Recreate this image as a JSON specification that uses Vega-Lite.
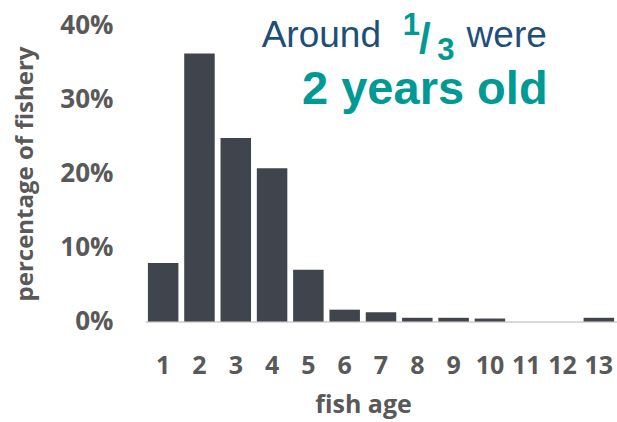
{
  "$schema": "https://vega.github.io/schema/vega-lite/v6.json",
  "autosize": {"type": "none"},
  "width": 472,
  "height": 296,
  "padding": {"left": 145, "top": 25.5, "right": 0, "bottom": 100.5},
  "background": "white",
  "config": {"view": {"stroke": null}},
  "data": {"values": [
    {"age": 1, "pct": 7.9},
    {"age": 2, "pct": 36.2},
    {"age": 3, "pct": 24.8},
    {"age": 4, "pct": 20.7},
    {"age": 5, "pct": 7.0},
    {"age": 6, "pct": 1.6},
    {"age": 7, "pct": 1.25},
    {"age": 8, "pct": 0.5},
    {"age": 9, "pct": 0.5},
    {"age": 10, "pct": 0.4},
    {"age": 11, "pct": 0},
    {"age": 12, "pct": 0},
    {"age": 13, "pct": 0.5}
  ]},
  "encoding": {
    "x": {
      "field": "age", "type": "ordinal",
      "scale": {"paddingInner": 0.16, "paddingOuter": 0.08},
      "axis": {
        "title": "fish age", "labelAngle": 0, "labelOverlap": false,
        "ticks": false, "domainColor": "#d9d9d9", "domainWidth": 2,
        "labelFont": "Open Sans", "labelFontSize": 25, "labelFontWeight": "bold", "labelColor": "#595959",
        "labelPadding": 32,
        "titleFont": "Open Sans", "titleFontSize": 25, "titleFontWeight": "bold", "titleColor": "#595959",
        "titlePadding": 14, "titleX": 218
      }
    }
  },
  "layer": [
    {
      "mark": {"type": "bar", "color": "#40444d"},
      "encoding": {
        "y": {
          "field": "pct", "type": "quantitative",
          "scale": {"domain": [0, 40], "nice": false},
          "axis": {
            "title": "percentage of fishery", "values": [0, 10, 20, 30, 40],
            "labelExpr": "datum.value + '%'",
            "grid": false, "ticks": false, "domain": false,
            "labelFont": "Open Sans", "labelFontSize": 26, "labelFontWeight": "bold", "labelColor": "#595959",
            "labelPadding": 32,
            "titleFont": "Open Sans", "titleFontSize": 24, "titleFontWeight": "bold", "titleColor": "#595959",
            "titlePadding": 22
          }
        }
      }
    },
    {
      "data": {"values": [{}]},
      "mark": {"type": "text", "text": "Around", "align": "right", "baseline": "alphabetic", "font": "Liberation Sans", "fontSize": 37, "color": "#1f4e79"},
      "encoding": {"x": {"datum": 7}, "y": {"datum": 37.05}}
    },
    {
      "data": {"values": [{}]},
      "mark": {"type": "text", "text": "were", "align": "left", "baseline": "alphabetic", "dx": 13, "font": "Liberation Sans", "fontSize": 37, "color": "#1f4e79"},
      "encoding": {"x": {"datum": 9}, "y": {"datum": 37.05}}
    },
    {
      "data": {"values": [{}]},
      "mark": {"type": "text", "text": "1", "align": "center", "baseline": "alphabetic", "dx": -6, "font": "Liberation Sans", "fontSize": 31, "fontWeight": "bold", "color": "#009994"},
      "encoding": {"x": {"datum": 8}, "y": {"datum": 38.77}}
    },
    {
      "data": {"values": [{}]},
      "mark": {"type": "text", "text": "/", "align": "center", "baseline": "alphabetic", "dx": 7.5, "font": "Liberation Sans", "fontSize": 42, "fontWeight": "bold", "color": "#009994"},
      "encoding": {"x": {"datum": 8}, "y": {"datum": 36.33}}
    },
    {
      "data": {"values": [{}]},
      "mark": {"type": "text", "text": "3", "align": "center", "baseline": "alphabetic", "dx": 28.5, "font": "Liberation Sans", "fontSize": 31, "fontWeight": "bold", "color": "#009994"},
      "encoding": {"x": {"datum": 8}, "y": {"datum": 35.38}}
    },
    {
      "data": {"values": [{}]},
      "mark": {"type": "text", "text": "2 years old", "align": "center", "baseline": "alphabetic", "dx": 7.5, "font": "Liberation Sans", "fontSize": 47, "fontWeight": "bold", "color": "#009994"},
      "encoding": {"x": {"datum": 8}, "y": {"datum": 29.43}}
    }
  ]
}
